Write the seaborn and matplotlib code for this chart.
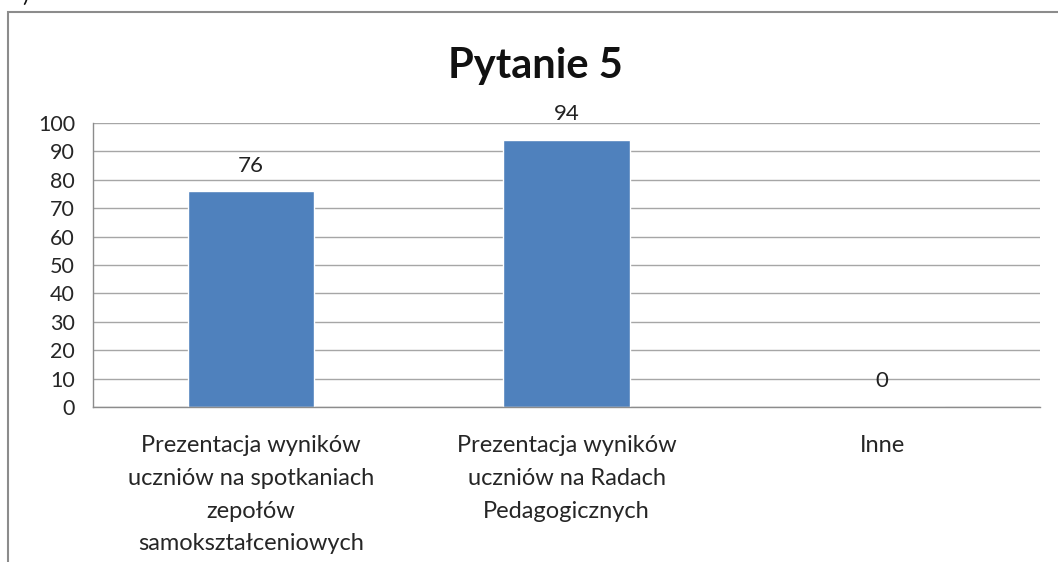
import matplotlib.pyplot as plt
import matplotlib.patches as mpatches
from matplotlib.ticker import FixedLocator
import seaborn as sns
import pandas as pd

kategorie = [
    "Prezentacja wyników\nuczniów na spotkaniach\nzepołów\nsamokształceniowych",
    "Prezentacja wyników\nuczniów na Radach\nPedagogicznych",
    "Inne",
]
wartosci = [76, 94, 0]
tytul = "Pytanie 5"

sns.set_style("white")
plt.rcParams["font.family"] = ["Lato", "DejaVu Sans"]

df = pd.DataFrame({"kategoria": kategorie, "wartosc": wartosci})

fig = plt.figure(figsize=(10.58, 5.62), dpi=100)
ax = fig.add_axes([93 / 1058, 1 - 407 / 562, (1040 - 93) / 1058, (407 - 123) / 562])

sns.barplot(data=df, x="kategoria", y="wartosc", color="#4F81BD", saturation=1,
            width=0.4, ax=ax)

for i, v in enumerate(wartosci):
    ax.text(i, v + 5.5, f"{v}", ha="center", va="bottom", fontsize=16, color="#222222")

ax.set_ylim(0, 100)
ax.set_xlim(-0.5, 2.5)
ax.set_yticks(range(0, 101, 10))
ax.yaxis.grid(True, color="#A6A6A6", linewidth=1)
ax.set_axisbelow(True)
for s in ["top", "right"]:
    ax.spines[s].set_visible(False)
for s in ["left", "bottom"]:
    ax.spines[s].set_color("#8C8C8C")
    ax.spines[s].set_linewidth(1)

ax.xaxis.set_minor_locator(FixedLocator([-0.5, 0.5, 1.5, 2.5]))
ax.tick_params(axis="x", which="major", length=0, pad=20, labelsize=17)
ax.tick_params(axis="x", which="minor", length=8, color="#8C8C8C", direction="out")
ax.tick_params(axis="y", length=7, color="#8C8C8C", direction="out", labelsize=15.5, pad=6)
for lab in ax.get_xticklabels():
    lab.set_linespacing(1.7)
    lab.set_verticalalignment("top")
ax.set_xlabel("")
ax.set_ylabel("")

fig.text(535 / 1058, 1 - 66 / 562, tytul, ha="center", va="center",
         fontsize=30, fontweight="bold", color="#111111")

# ramka wykresu
fig.patches.append(mpatches.Rectangle((8 / 1058, -0.1), 1.2, 1.1 - 12 / 562, transform=fig.transFigure,
                                      fill=False, edgecolor="#8C8C8C", linewidth=1.5))
fig.text(22 / 1058, 1 + 4 / 562, ")", ha="left", va="center", fontsize=16, color="#111111")

fig.savefig("out.png", dpi=100)
